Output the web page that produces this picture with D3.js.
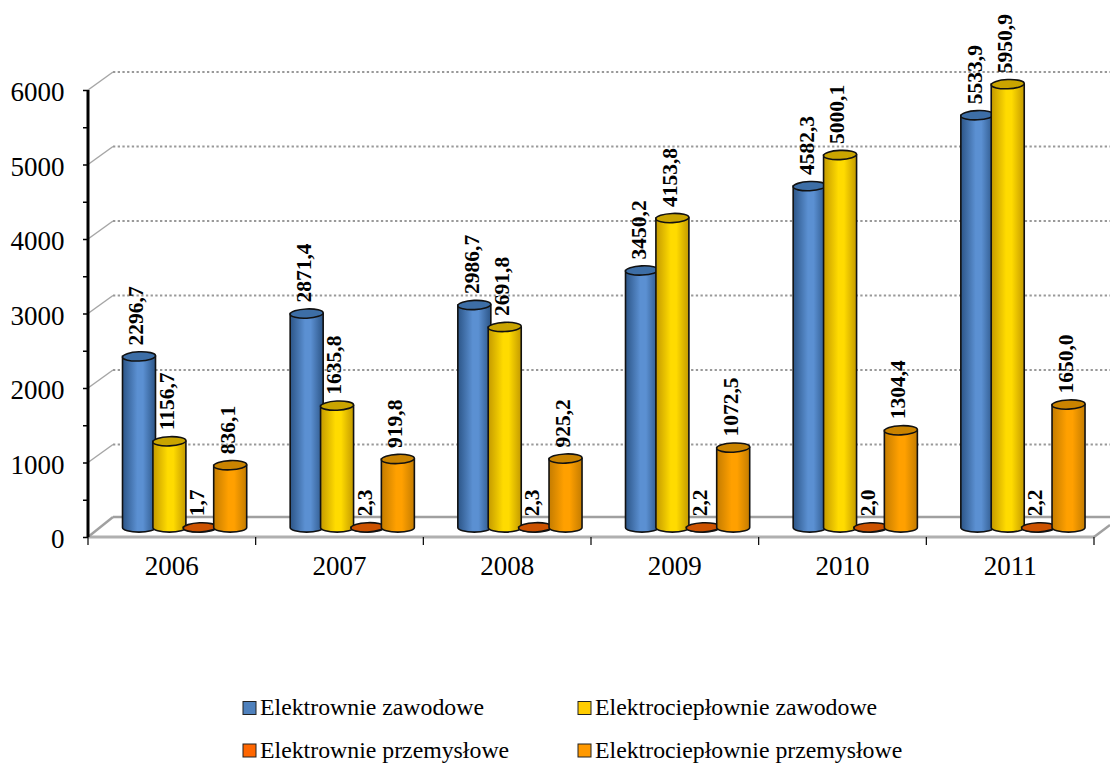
<!DOCTYPE html>
<html lang="pl">
<head>
<meta charset="utf-8">
<title>Produkcja energii</title>
<script src="https://cdn.jsdelivr.net/npm/d3@7/dist/d3.min.js"></script>
<style>
  html, body { margin: 0; padding: 0; background: #fff; }
  svg { display: block; }
  text { font-family: "Liberation Serif", serif; fill: #000; }
</style>
</head>
<body>
<svg id="chart" width="1110" height="763"></svg>
<script>
const years = ["2006", "2007", "2008", "2009", "2010", "2011"];
const seriesNames = ["Elektrownie zawodowe", "Elektrociepłownie zawodowe", "Elektrownie przemysłowe", "Elektrociepłownie przemysłowe"];
const elektrownieZawodowe = [2296.7, 2871.4, 2986.7, 3450.2, 4582.3, 5533.9];
const cieplownieZawodowe = [1156.7, 1635.8, 2691.8, 4153.8, 5000.1, 5950.9];
const elektrowniePrzemyslowe = [1.7, 2.3, 2.3, 2.2, 2.0, 2.2];
const cieplowniePrzemyslowe = [836.1, 919.8, 925.2, 1072.5, 1304.4, 1650.0];
const seriesValues = [elektrownieZawodowe, cieplownieZawodowe, elektrowniePrzemyslowe, cieplowniePrzemyslowe];
const yTicks = [0, 1000, 2000, 3000, 4000, 5000, 6000];
const yMinorTicks = [0, 500, 1000, 1500, 2000, 2500, 3000, 3500, 4000, 4500, 5000, 5500, 6000];

// Per-series cylinder colours: edge, centre, cap, and legend swatch
const palette = [
  { edge: "#2c5587", mid: "#5b90d2", cap: "#3d6ea6", key: "#4f81bd" },
  { edge: "#c49a00", mid: "#ffdb00", cap: "#c9a400", key: "#ffcc00" },
  { edge: "#b84a00", mid: "#f06000", cap: "#cc5200", key: "#ff6600" },
  { edge: "#c47c00", mid: "#ffa000", cap: "#c98300", key: "#ff9900" }
];

const svg = d3.select("#chart");
const plot = { left: 88, right: 1094, front: 537, top: 90 };
const depth = { dx: 25, dy: 20 };

const x = d3.scaleBand().domain(years).range([plot.left, plot.right]);
const y = d3.scaleLinear().domain([0, 6000]).range([plot.front, plot.top]);
const numberFormat = v => d3.format(".1f")(v).replace(".", ",");

// Each cylinder overlaps its neighbour slightly
const seriesIndex = d3.scaleLinear().domain([0, 1]).range([34.5, 64.9]);
const barWidth = 33;
const capRy = 4.6;
const baseShift = 9.5;   // bars stand in the middle of the floor depth

const defs = svg.append("defs");
palette.forEach((c, i) => {
  const g = defs.append("linearGradient").attr("id", "cyl" + i);
  g.append("stop").attr("offset", "0%").attr("stop-color", c.edge);
  g.append("stop").attr("offset", "45%").attr("stop-color", c.mid);
  g.append("stop").attr("offset", "62%").attr("stop-color", c.mid);
  g.append("stop").attr("offset", "100%").attr("stop-color", c.edge);
});

// Back-wall gridlines with their side-wall returns
const grid = svg.append("g");
yTicks.filter(t => t > 0).forEach(t => {
  grid.append("line")
    .attr("x1", plot.left).attr("y1", y(t))
    .attr("x2", plot.left + depth.dx).attr("y2", y(t) - depth.dy + 2)
    .attr("stroke", "#a6a6a6").attr("stroke-width", 1.5);
  grid.append("line")
    .attr("x1", plot.left + depth.dx).attr("y1", y(t) - depth.dy + 2)
    .attr("x2", 1110).attr("y2", y(t) - depth.dy + 2)
    .attr("stroke", "#999").attr("stroke-width", 2)
    .attr("stroke-dasharray", "2.3 2.4");
});

// Floor outline
const floor = svg.append("g").attr("fill", "none").attr("stroke", "#a0a0a0").attr("stroke-width", 2.5);
floor.append("path").attr("d", d3.line()([
  [plot.left + depth.dx, plot.front - depth.dy],
  [1110, plot.front - depth.dy]
]));
floor.append("path").attr("d", d3.line()([
  [plot.left, plot.front], [plot.right, plot.front]
])).attr("stroke-width", 3).attr("stroke", "#b0b0b0");
floor.append("path").attr("d", d3.line()([
  [plot.left + depth.dx, plot.front - depth.dy], [plot.left, plot.front]
]));
floor.append("path").attr("d", d3.line()([
  [plot.right, plot.front], [1110, plot.front - 12]
]));

// Category axis: ticks mark the band boundaries
const xAxis = d3.axisBottom(x).tickSize(0).tickPadding(19);
const gx = svg.append("g").attr("transform", `translate(0,${plot.front})`).call(xAxis);
gx.select(".domain").remove();
gx.selectAll("text").style("font-size", "27px").style("font-family", '"Liberation Serif", serif');
const boundaries = years.map(d => x(d)).concat(plot.right);
gx.selectAll("line.bound").data(boundaries).enter().append("line")
  .attr("class", "bound").attr("x1", d => d).attr("x2", d => d)
  .attr("y1", 0).attr("y2", 8).attr("stroke", "#000").attr("stroke-width", 1.2);

// Value axis
const gy = svg.append("g").attr("transform", `translate(${plot.left},0)`)
  .call(d3.axisLeft(y).tickValues(yMinorTicks).tickSize(5).tickFormat(d => yTicks.includes(d) ? d : ""));
gy.select(".domain").attr("stroke-width", 3).attr("d", `M0,${plot.top}V${plot.front}`);
gy.selectAll("line").attr("stroke-width", 1.5);
gy.selectAll("text").attr("x", -23.5).attr("dy", "0.4em")
  .style("font-size", "27px").style("font-family", '"Liberation Serif", serif');

// Cylinders
const bars = svg.append("g");
const labels = svg.append("g");
years.forEach((year, yi) => {
  seriesValues.forEach((values, si) => {
    const v = values[yi];
    const left = x(year) + seriesIndex(si);
    const cx = left + barWidth / 2;
    const baseY = y(0) - baseShift;
    const topY = y(v) - baseShift;
    const c = palette[si];
    const g = bars.append("g").attr("stroke", "#111").attr("stroke-width", 1.6);
    g.append("path")
      .attr("d", `M${left},${topY}V${baseY}A${barWidth / 2},${capRy} 0 0 0 ${left + barWidth},${baseY}V${topY}Z`)
      .attr("fill", `url(#cyl${si})`);
    g.append("ellipse")
      .attr("cx", cx).attr("cy", topY).attr("rx", barWidth / 2).attr("ry", capRy)
      .attr("transform", `rotate(-2.5 ${cx} ${topY})`)
      .attr("fill", c.cap);

    const lx = cx - 3;
    const ly = topY - 11;
    labels.append("text")
      .attr("transform", `translate(${lx},${ly}) rotate(-90)`)
      .attr("dy", "0.34em")
      .attr("font-size", 21.5).attr("font-weight", "bold")
      .text(numberFormat(v));
  });
});

// Legend: two rows, two columns
const legendCols = d3.scaleOrdinal().domain([0, 1]).range([243, 578]);
const legendRows = d3.scaleOrdinal().domain([0, 1]).range([708.5, 751]);
seriesNames.forEach((name, i) => {
  const col = i % 2, row = Math.floor(i / 2);
  const g = svg.append("g").attr("transform", `translate(${legendCols(col)},${legendRows(row)})`);
  g.append("rect").attr("x", 0).attr("y", -7).attr("width", 13).attr("height", 13)
    .attr("fill", palette[i].key).attr("stroke", "#222").attr("stroke-width", 1);
  g.append("text").attr("x", 17).attr("y", 6.5).attr("font-size", 23.8).text(name);
});
</script>
</body>
</html>
